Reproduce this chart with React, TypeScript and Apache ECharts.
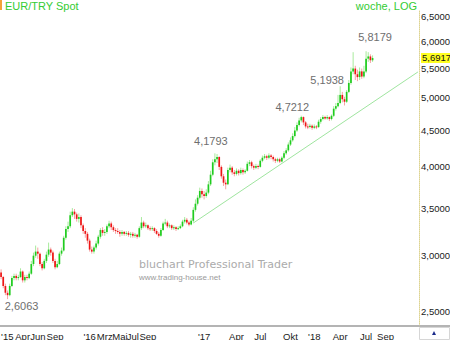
import React, { useEffect, useRef } from "react";
import * as echarts from "echarts";

// Weekly EUR/TRY candles: [open, close, low, high]
const candles: number[][] = [
  [2.84, 2.80, 2.78, 2.87], [2.80, 2.72, 2.70, 2.81], [2.72, 2.66, 2.64, 2.74], [2.66, 2.64, 2.6063, 2.68],
  [2.64, 2.72, 2.63, 2.74], [2.72, 2.79, 2.71, 2.81], [2.79, 2.81, 2.77, 2.83], [2.81, 2.79, 2.77, 2.83],
  [2.79, 2.80, 2.77, 2.82], [2.80, 2.85, 2.79, 2.88], [2.85, 2.77, 2.75, 2.86], [2.77, 2.80, 2.75, 2.82],
  [2.80, 2.79, 2.77, 2.82], [2.79, 2.83, 2.78, 2.85], [2.83, 2.92, 2.82, 2.95], [2.92, 3.00, 2.90, 3.03],
  [3.00, 3.04, 2.98, 3.10], [3.04, 3.02, 2.97, 3.08], [3.02, 2.92, 2.90, 3.03], [2.92, 2.88, 2.86, 2.94],
  [2.88, 2.95, 2.87, 2.97], [2.95, 3.01, 2.93, 3.04], [3.01, 3.06, 2.99, 3.13], [3.06, 3.03, 3.00, 3.08],
  [3.03, 2.95, 2.93, 3.05], [2.95, 2.89, 2.87, 2.97], [2.89, 2.92, 2.88, 2.95], [2.92, 3.02, 2.91, 3.04],
  [3.02, 3.05, 3.00, 3.08], [3.05, 3.18, 3.04, 3.20], [3.18, 3.27, 3.16, 3.30], [3.27, 3.30, 3.24, 3.35],
  [3.30, 3.42, 3.28, 3.46], [3.42, 3.46, 3.40, 3.50], [3.46, 3.43, 3.38, 3.49], [3.43, 3.38, 3.35, 3.45],
  [3.38, 3.40, 3.34, 3.44], [3.40, 3.31, 3.28, 3.42], [3.31, 3.25, 3.22, 3.33], [3.25, 3.22, 3.18, 3.28],
  [3.22, 3.15, 3.12, 3.24], [3.15, 3.06, 3.04, 3.17], [3.06, 3.04, 3.02, 3.09], [3.04, 3.08, 3.02, 3.10],
  [3.08, 3.12, 3.06, 3.15], [3.12, 3.19, 3.10, 3.21], [3.19, 3.26, 3.17, 3.28], [3.26, 3.23, 3.20, 3.29],
  [3.23, 3.24, 3.20, 3.27], [3.24, 3.30, 3.22, 3.32], [3.30, 3.33, 3.28, 3.36], [3.33, 3.29, 3.26, 3.35],
  [3.29, 3.26, 3.24, 3.31], [3.26, 3.25, 3.22, 3.28], [3.25, 3.24, 3.22, 3.28], [3.24, 3.22, 3.19, 3.26],
  [3.22, 3.24, 3.20, 3.26], [3.24, 3.22, 3.20, 3.25], [3.22, 3.23, 3.20, 3.25], [3.23, 3.21, 3.19, 3.25],
  [3.21, 3.22, 3.18, 3.24], [3.22, 3.20, 3.18, 3.24], [3.20, 3.21, 3.18, 3.23], [3.21, 3.19, 3.17, 3.22],
  [3.19, 3.28, 3.18, 3.30], [3.28, 3.34, 3.26, 3.40], [3.34, 3.30, 3.28, 3.36], [3.30, 3.31, 3.28, 3.34],
  [3.31, 3.28, 3.26, 3.32], [3.28, 3.27, 3.25, 3.30], [3.27, 3.28, 3.25, 3.30], [3.28, 3.25, 3.23, 3.29],
  [3.25, 3.22, 3.21, 3.27], [3.22, 3.20, 3.18, 3.24], [3.20, 3.26, 3.19, 3.28], [3.26, 3.33, 3.25, 3.35],
  [3.33, 3.34, 3.31, 3.38], [3.34, 3.30, 3.28, 3.36], [3.30, 3.31, 3.28, 3.33], [3.31, 3.28, 3.26, 3.32],
  [3.28, 3.29, 3.26, 3.31], [3.29, 3.27, 3.25, 3.30], [3.27, 3.28, 3.26, 3.30], [3.28, 3.30, 3.27, 3.32],
  [3.30, 3.35, 3.29, 3.37], [3.35, 3.37, 3.33, 3.40], [3.37, 3.34, 3.32, 3.39], [3.34, 3.32, 3.30, 3.36],
  [3.32, 3.36, 3.31, 3.39], [3.36, 3.48, 3.34, 3.51], [3.48, 3.55, 3.46, 3.60], [3.55, 3.62, 3.53, 3.65],
  [3.62, 3.70, 3.60, 3.74], [3.70, 3.66, 3.62, 3.73], [3.66, 3.64, 3.60, 3.70], [3.64, 3.68, 3.62, 3.72],
  [3.68, 3.78, 3.66, 3.82], [3.78, 3.90, 3.76, 3.95], [3.90, 4.06, 3.88, 4.10], [4.06, 4.10, 4.02, 4.1793],
  [4.10, 4.13, 4.05, 4.17], [4.13, 4.00, 3.96, 4.14], [4.00, 3.88, 3.85, 4.02], [3.88, 3.80, 3.76, 3.91],
  [3.80, 3.78, 3.72, 3.84], [3.78, 3.96, 3.77, 3.99], [3.96, 3.99, 3.93, 4.03], [3.99, 3.93, 3.90, 4.01],
  [3.93, 3.91, 3.88, 3.96], [3.91, 3.95, 3.89, 3.98], [3.95, 3.92, 3.89, 3.97], [3.92, 3.96, 3.90, 3.99],
  [3.96, 3.93, 3.90, 3.98], [3.93, 3.95, 3.91, 3.97], [3.95, 4.04, 3.94, 4.07], [4.04, 4.06, 4.01, 4.09],
  [4.06, 4.01, 3.98, 4.08], [4.01, 3.99, 3.96, 4.03], [3.99, 4.01, 3.97, 4.04], [4.01, 4.00, 3.97, 4.03],
  [4.00, 4.08, 3.99, 4.10], [4.08, 4.12, 4.06, 4.15], [4.12, 4.14, 4.10, 4.17], [4.14, 4.12, 4.09, 4.16],
  [4.12, 4.15, 4.10, 4.18], [4.15, 4.13, 4.10, 4.17], [4.13, 4.10, 4.07, 4.15], [4.10, 4.08, 4.05, 4.12],
  [4.08, 4.10, 4.06, 4.12], [4.10, 4.07, 4.05, 4.12], [4.07, 4.12, 4.06, 4.14], [4.12, 4.18, 4.10, 4.21],
  [4.18, 4.22, 4.16, 4.25], [4.22, 4.30, 4.20, 4.33], [4.30, 4.36, 4.28, 4.40], [4.36, 4.42, 4.34, 4.46],
  [4.42, 4.50, 4.40, 4.55], [4.50, 4.58, 4.48, 4.62], [4.58, 4.65, 4.56, 4.69], [4.65, 4.70, 4.62, 4.7212],
  [4.70, 4.62, 4.58, 4.71], [4.62, 4.56, 4.53, 4.64], [4.56, 4.55, 4.52, 4.60], [4.55, 4.57, 4.53, 4.60],
  [4.57, 4.54, 4.51, 4.59], [4.54, 4.56, 4.52, 4.59], [4.56, 4.55, 4.52, 4.58], [4.55, 4.63, 4.54, 4.66],
  [4.63, 4.67, 4.60, 4.70], [4.67, 4.70, 4.65, 4.73], [4.70, 4.68, 4.66, 4.72], [4.68, 4.70, 4.66, 4.73],
  [4.70, 4.67, 4.64, 4.71], [4.67, 4.72, 4.65, 4.74], [4.72, 4.83, 4.70, 4.87], [4.83, 4.87, 4.80, 4.92],
  [4.87, 4.92, 4.85, 5.05], [4.92, 5.05, 4.90, 5.1938], [5.05, 4.98, 4.93, 5.10], [4.98, 4.94, 4.88, 5.02],
  [4.94, 5.10, 4.92, 5.13], [5.10, 5.25, 5.08, 5.30], [5.25, 5.45, 5.22, 5.52], [5.45, 5.50, 5.40, 5.80],
  [5.50, 5.40, 5.30, 5.55], [5.40, 5.35, 5.28, 5.48], [5.35, 5.45, 5.30, 5.52], [5.45, 5.36, 5.32, 5.50],
  [5.36, 5.45, 5.33, 5.55], [5.45, 5.68, 5.42, 5.8179], [5.68, 5.72, 5.62, 5.80], [5.72, 5.65, 5.60, 5.76],
  [5.65, 5.6917, 5.62, 5.74],
];

const totalWeeks = 194;
const startDate = new Date(Date.UTC(2015, 1, 23));

// x-axis tick labels: [text, week index]
const xTickLabels: [string, number][] = [
  ["'15", 0], ["Apr", 10], ["Jun", 17], ["Sep", 25], ["'16", 41], ["Mrz", 48], ["Mai", 55],
  ["Jul", 61], ["Sep", 68], ["'17", 94], ["Apr", 109], ["Jul", 120], ["Okt", 134],
  ["'18", 145], ["Apr", 157], ["Jul", 169], ["Sep", 178],
];

const yTicks = [2.5, 3.0, 3.5, 4.0, 4.5, 5.0, 5.5, 6.0, 6.5];
const lastPrice = 5.6917;
const yMin = 2.389;
const yMax = 6.649;

// annotated extremes: [week index, value, label dx, label dy]
const extremes: [number, number, number, number][] = [
  [3, 2.6063, 14, 7],
  [99, 4.1793, -4, -12],
  [139, 4.7212, -9, -9],
  [157, 5.1938, -13, -6],
  [169, 5.8179, 9, -14],
];

// trend line: [week index, value]
const trendStart: [number, number] = [89, 3.335];
const trendEnd: [number, number] = [193, 5.44];

const fmt = (v: number) => v.toFixed(4).replace(".", ",");

export default function App() {
  const ref = useRef<HTMLDivElement>(null);
  useEffect(() => {
    if (!ref.current) return;
    const chart = echarts.init(ref.current, null, { renderer: "svg" });
    const categories: string[] = [];
    for (let i = 0; i < totalWeeks; i++) {
      const d = new Date(startDate.getTime() + i * 7 * 86400000);
      categories.push(d.toISOString().slice(0, 10));
    }
    const labelMap = new Map<number, string>();
    xTickLabels.forEach(([t, i]) => labelMap.set(i, t));
    const data = candles.map((c, i) => [i, Math.log(c[0]), Math.log(c[1]), Math.log(c[2]), Math.log(c[3])]);
    const lastLn = Math.log(lastPrice);

    chart.setOption({
      animation: false,
      backgroundColor: "#ffffff",
      grid: { left: 0, right: 31, top: 10, bottom: 14, containLabel: false, outerBoundsMode: "none" },
      xAxis: {
        type: "category",
        data: categories,
        boundaryGap: true,
        axisLine: { show: true, lineStyle: { color: "#b4b4b4", width: 2 } },
        axisTick: { show: false },
        axisLabel: {
          interval: (idx: number) => labelMap.has(idx),
          formatter: (_v: string, idx: number) => labelMap.get(idx) || "",
          color: "#1a1a1a",
          fontFamily: "Liberation Sans",
          fontSize: 9.5,
          margin: 5,
          hideOverlap: false,
          showMinLabel: true,
          showMaxLabel: true,
          alignMinLabel: "left",
        },
        splitLine: { show: false },
      },
      yAxis: {
        type: "value",
        position: "right",
        min: Math.log(yMin),
        max: Math.log(yMax),
        axisLine: { show: true, lineStyle: { color: "#ddd38f", type: "dotted", width: 1 } },
        axisTick: { show: false },
        splitLine: { show: false },
        axisLabel: {
          customValues: [...yTicks.map((v) => Math.log(v)), lastLn],
          formatter: (v: number) =>
            Math.abs(v - lastLn) < 1e-9 ? "{hl|" + fmt(lastPrice) + "}" : fmt(Math.exp(v)),
          color: "#1a1a1a",
          fontFamily: "Liberation Sans",
          fontSize: 9.5,
          margin: 2,
          hideOverlap: false,
          rich: {
            hl: {
              backgroundColor: "#ffff22",
              color: "#111",
              fontFamily: "Liberation Sans",
              fontSize: 9.5,
              lineHeight: 11,
              padding: [0, 1, 0, 1],
            },
          },
        },
      },
      series: [
        {
          type: "custom",
          data,
          encode: { x: 0, y: [1, 2, 3, 4] },
          clip: true,
          renderItem: (_params: any, api: any) => {
            const x = api.value(0);
            const o = api.value(1);
            const c = api.value(2);
            const lo = api.value(3);
            const hi = api.value(4);
            const po = api.coord([x, o]);
            const pc = api.coord([x, c]);
            const pl = api.coord([x, lo]);
            const ph = api.coord([x, hi]);
            const up = c >= o;
            const w = 1.7;
            const top = Math.min(po[1], pc[1]);
            const h = Math.max(1, Math.abs(po[1] - pc[1]));
            return {
              type: "group",
              children: [
                {
                  type: "line",
                  shape: { x1: pl[0], y1: pl[1], x2: ph[0], y2: ph[1] },
                  style: { stroke: up ? "#a8ea9c" : "#f5a3a3", lineWidth: 1 },
                },
                {
                  type: "rect",
                  shape: { x: po[0] - w / 2, y: top, width: w, height: h },
                  style: { fill: up ? "#1fcc1f" : "#ee1515" },
                },
              ],
            };
          },
          markPoint: {
            symbol: "circle",
            symbolSize: 0,
            silent: true,
            data: extremes.map(([i, v, dx, dy]) => ({
              coord: [i, Math.log(v)],
              value: v,
              label: {
                show: true,
                position: "inside",
                offset: [dx, dy],
                formatter: fmt(v),
                color: "#6e6e6e",
                fontFamily: "Liberation Sans",
                fontSize: 11,
              },
            })),
          },
          markLine: {
            symbol: "none",
            silent: true,
            label: { show: false },
            lineStyle: { color: "#9fe59f", width: 1, type: "solid" },
            data: [
              [
                { coord: [trendStart[0], Math.log(trendStart[1])] },
                { coord: [trendEnd[0], Math.log(trendEnd[1])] },
              ],
            ],
          },
        },
      ],
      graphic: [
        { type: "rect", left: 0, top: 0, shape: { width: 2, height: 10 }, style: { fill: "#f2a33a" } },
        {
          type: "text", left: 5, top: 0,
          style: { text: "EUR/TRY Spot", fill: "#33cc33", font: "11px 'Liberation Sans'" },
        },
        {
          type: "text", right: 33, top: 0,
          style: { text: "woche, LOG", fill: "#33cc33", font: "11px 'Liberation Sans'" },
        },
        {
          type: "text", left: 139, top: 259,
          style: { text: "bluchart Professional Trader", fill: "#ababab", font: "11px 'DejaVu Sans'" },
        },
        {
          type: "text", left: 139, top: 273,
          style: { text: "www.trading-house.net", fill: "#9a9a9a", font: "8px 'Liberation Sans'" },
        },
        {
          type: "rect", left: 419, top: 325, shape: { width: 31, height: 2 },
          style: { fill: "#b4b4b4" },
        },
        {
          type: "rect", left: 419, top: 327, shape: { width: 30, height: 12 },
          style: { fill: "#ffffff", stroke: "#d6d6d6", lineWidth: 1 },
        },
        {
          type: "polygon", left: 432, top: 331,
          shape: { points: [[2, 0], [4, 4], [0, 4]] },
          style: { fill: "#1a2a8a" },
        },
      ],
    });
    return () => chart.dispose();
  }, []);
  return (
    <div
      ref={ref}
      style={{ position: "fixed", left: 0, top: 0, width: 450, height: 340, background: "#fff" }}
    />
  );
}
